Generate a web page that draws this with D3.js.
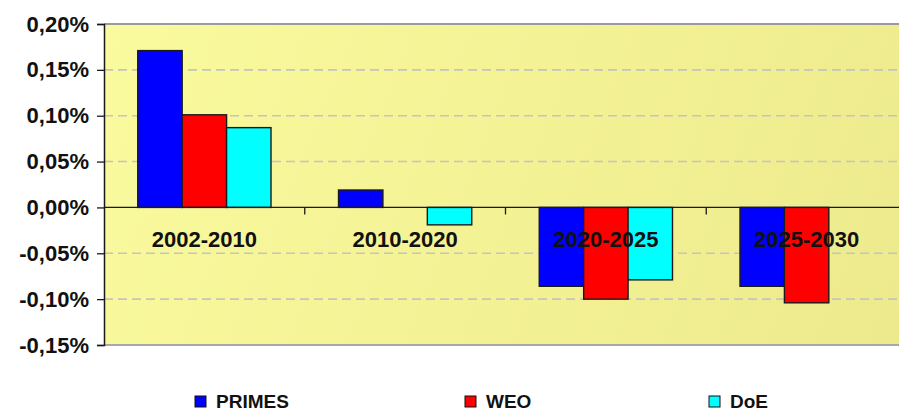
<!DOCTYPE html>
<html>
<head>
<meta charset="utf-8">
<script src="https://cdn.jsdelivr.net/npm/d3@7"></script>
<style>
  html, body { margin: 0; padding: 0; background: #ffffff; overflow: hidden; }
  svg { display: block; }
  text { font-family: "Liberation Sans", Arial, sans-serif; }
</style>
</head>
<body>
<svg id="chart" width="899" height="412"></svg>
<script>
// Annual growth rates by period, in percent
const categories = ["2002-2010", "2010-2020", "2020-2025", "2025-2030"];
const seriesNames = ["PRIMES", "WEO", "DoE"];
const primes = [0.171, 0.019, -0.086, -0.086];
const weo = [0.101, null, -0.100, -0.104];
const doe = [0.087, -0.019, -0.079, null];
const seriesColors = ["#0000ff", "#ff0000", "#00ffff"];
const yTicks = [0.20, 0.15, 0.10, 0.05, 0.00, -0.05, -0.10, -0.15];

const seriesValues = [primes, weo, doe];

const svg = d3.select("#chart");
const plot = { left: 104, right: 907, top: 24, bottom: 345 };

const x = d3.scaleBand().domain(categories).range([plot.left, plot.right]).padding(0);
const xInner = d3.scaleBand().domain(seriesNames).range([0, x.bandwidth()])
  .paddingInner(0).paddingOuter(0.76);
const y = d3.scaleLinear().domain([-0.15, 0.20]).range([plot.bottom, plot.top]);

// Plot background with a soft yellow gradient
const defs = svg.append("defs");
const grad = defs.append("linearGradient").attr("id", "bg")
  .attr("gradientUnits", "userSpaceOnUse")
  .attr("x1", plot.left).attr("y1", plot.top).attr("x2", plot.right).attr("y2", plot.bottom);
grad.append("stop").attr("offset", "0%").attr("stop-color", "#fafa9e");
grad.append("stop").attr("offset", "100%").attr("stop-color", "#ecea8c");

svg.append("rect")
  .attr("x", plot.left).attr("y", plot.top)
  .attr("width", plot.right - plot.left).attr("height", plot.bottom - plot.top)
  .attr("fill", "url(#bg)");

// Top and bottom frame lines
svg.append("line")
  .attr("x1", plot.left).attr("x2", plot.right)
  .attr("y1", plot.top).attr("y2", plot.top)
  .attr("stroke", "#9a9a9a").attr("stroke-width", 2);
svg.append("line")
  .attr("x1", plot.left).attr("x2", plot.right)
  .attr("y1", plot.bottom).attr("y2", plot.bottom)
  .attr("stroke", "#a8a8a8").attr("stroke-width", 2);

// Dashed horizontal gridlines
svg.append("g").selectAll("line")
  .data(yTicks.filter(t => t !== 0 && t !== 0.20 && t !== -0.15))
  .join("line")
  .attr("x1", plot.left).attr("x2", plot.right)
  .attr("y1", d => y(d)).attr("y2", d => y(d))
  .attr("stroke", "#c4c4c4").attr("stroke-width", 1.6)
  .attr("stroke-dasharray", "9,5");

// Bars
const groups = svg.append("g").selectAll("g")
  .data(categories)
  .join("g")
  .attr("transform", d => `translate(${x(d)},0)`);

groups.selectAll("rect")
  .data((c, i) => seriesNames.map((s, j) => ({ s, j, v: seriesValues[j][i] })).filter(d => d.v !== null))
  .join("rect")
  .attr("x", d => xInner(d.s))
  .attr("width", xInner.bandwidth())
  .attr("y", d => y(Math.max(0, d.v)))
  .attr("height", d => Math.abs(y(d.v) - y(0)))
  .attr("fill", d => seriesColors[d.j])
  .attr("stroke", "#1a1a1a").attr("stroke-width", 1.4);

// Zero line and category separators
svg.append("line")
  .attr("x1", plot.left).attr("x2", plot.right)
  .attr("y1", y(0)).attr("y2", y(0))
  .attr("stroke", "#1a1a1a").attr("stroke-width", 1.3);
svg.append("g").selectAll("line")
  .data(categories.slice(1))
  .join("line")
  .attr("x1", d => x(d)).attr("x2", d => x(d))
  .attr("y1", y(0)).attr("y2", y(0) + 7)
  .attr("stroke", "#1a1a1a").attr("stroke-width", 1.3);

// Y axis
const yAxis = d3.axisLeft(y)
  .tickValues(yTicks)
  .tickSize(7)
  .tickPadding(8)
  .tickFormat(d => d3.format(".2f")(d).replace("−", "-").replace(".", ",") + "%");
const ya = svg.append("g").attr("transform", `translate(${plot.left},0)`).call(yAxis);
ya.select(".domain").attr("stroke", "#1a1a1a").attr("stroke-width", 1.5);
ya.selectAll(".tick line").attr("stroke", "#1a1a1a").attr("stroke-width", 1.3);
ya.selectAll(".tick text")
  .attr("font-family", "'Liberation Sans', Arial, sans-serif")
  .attr("font-size", 22).attr("font-weight", "bold")
  .attr("fill", "#111");

// Category labels just below the zero line
svg.append("g").selectAll("text")
  .data(categories)
  .join("text")
  .attr("x", d => x(d) + x.bandwidth() / 2)
  .attr("y", y(0) + 40)
  .attr("text-anchor", "middle")
  .attr("font-size", 22).attr("font-weight", "bold")
  .attr("fill", "#111")
  .text(d => d);

// Legend
const legendX = [195, 465, 709];
const legend = svg.append("g").selectAll("g")
  .data(seriesNames)
  .join("g")
  .attr("transform", (d, i) => `translate(${legendX[i]},396)`);
legend.append("rect")
  .attr("width", 11).attr("height", 11)
  .attr("fill", (d, i) => seriesColors[i])
  .attr("stroke", "#111").attr("stroke-width", 1);
legend.append("text")
  .attr("x", 21).attr("y", 11.5)
  .attr("font-size", 19).attr("font-weight", "bold")
  .attr("fill", "#111")
  .text(d => d);
</script>
</body>
</html>
